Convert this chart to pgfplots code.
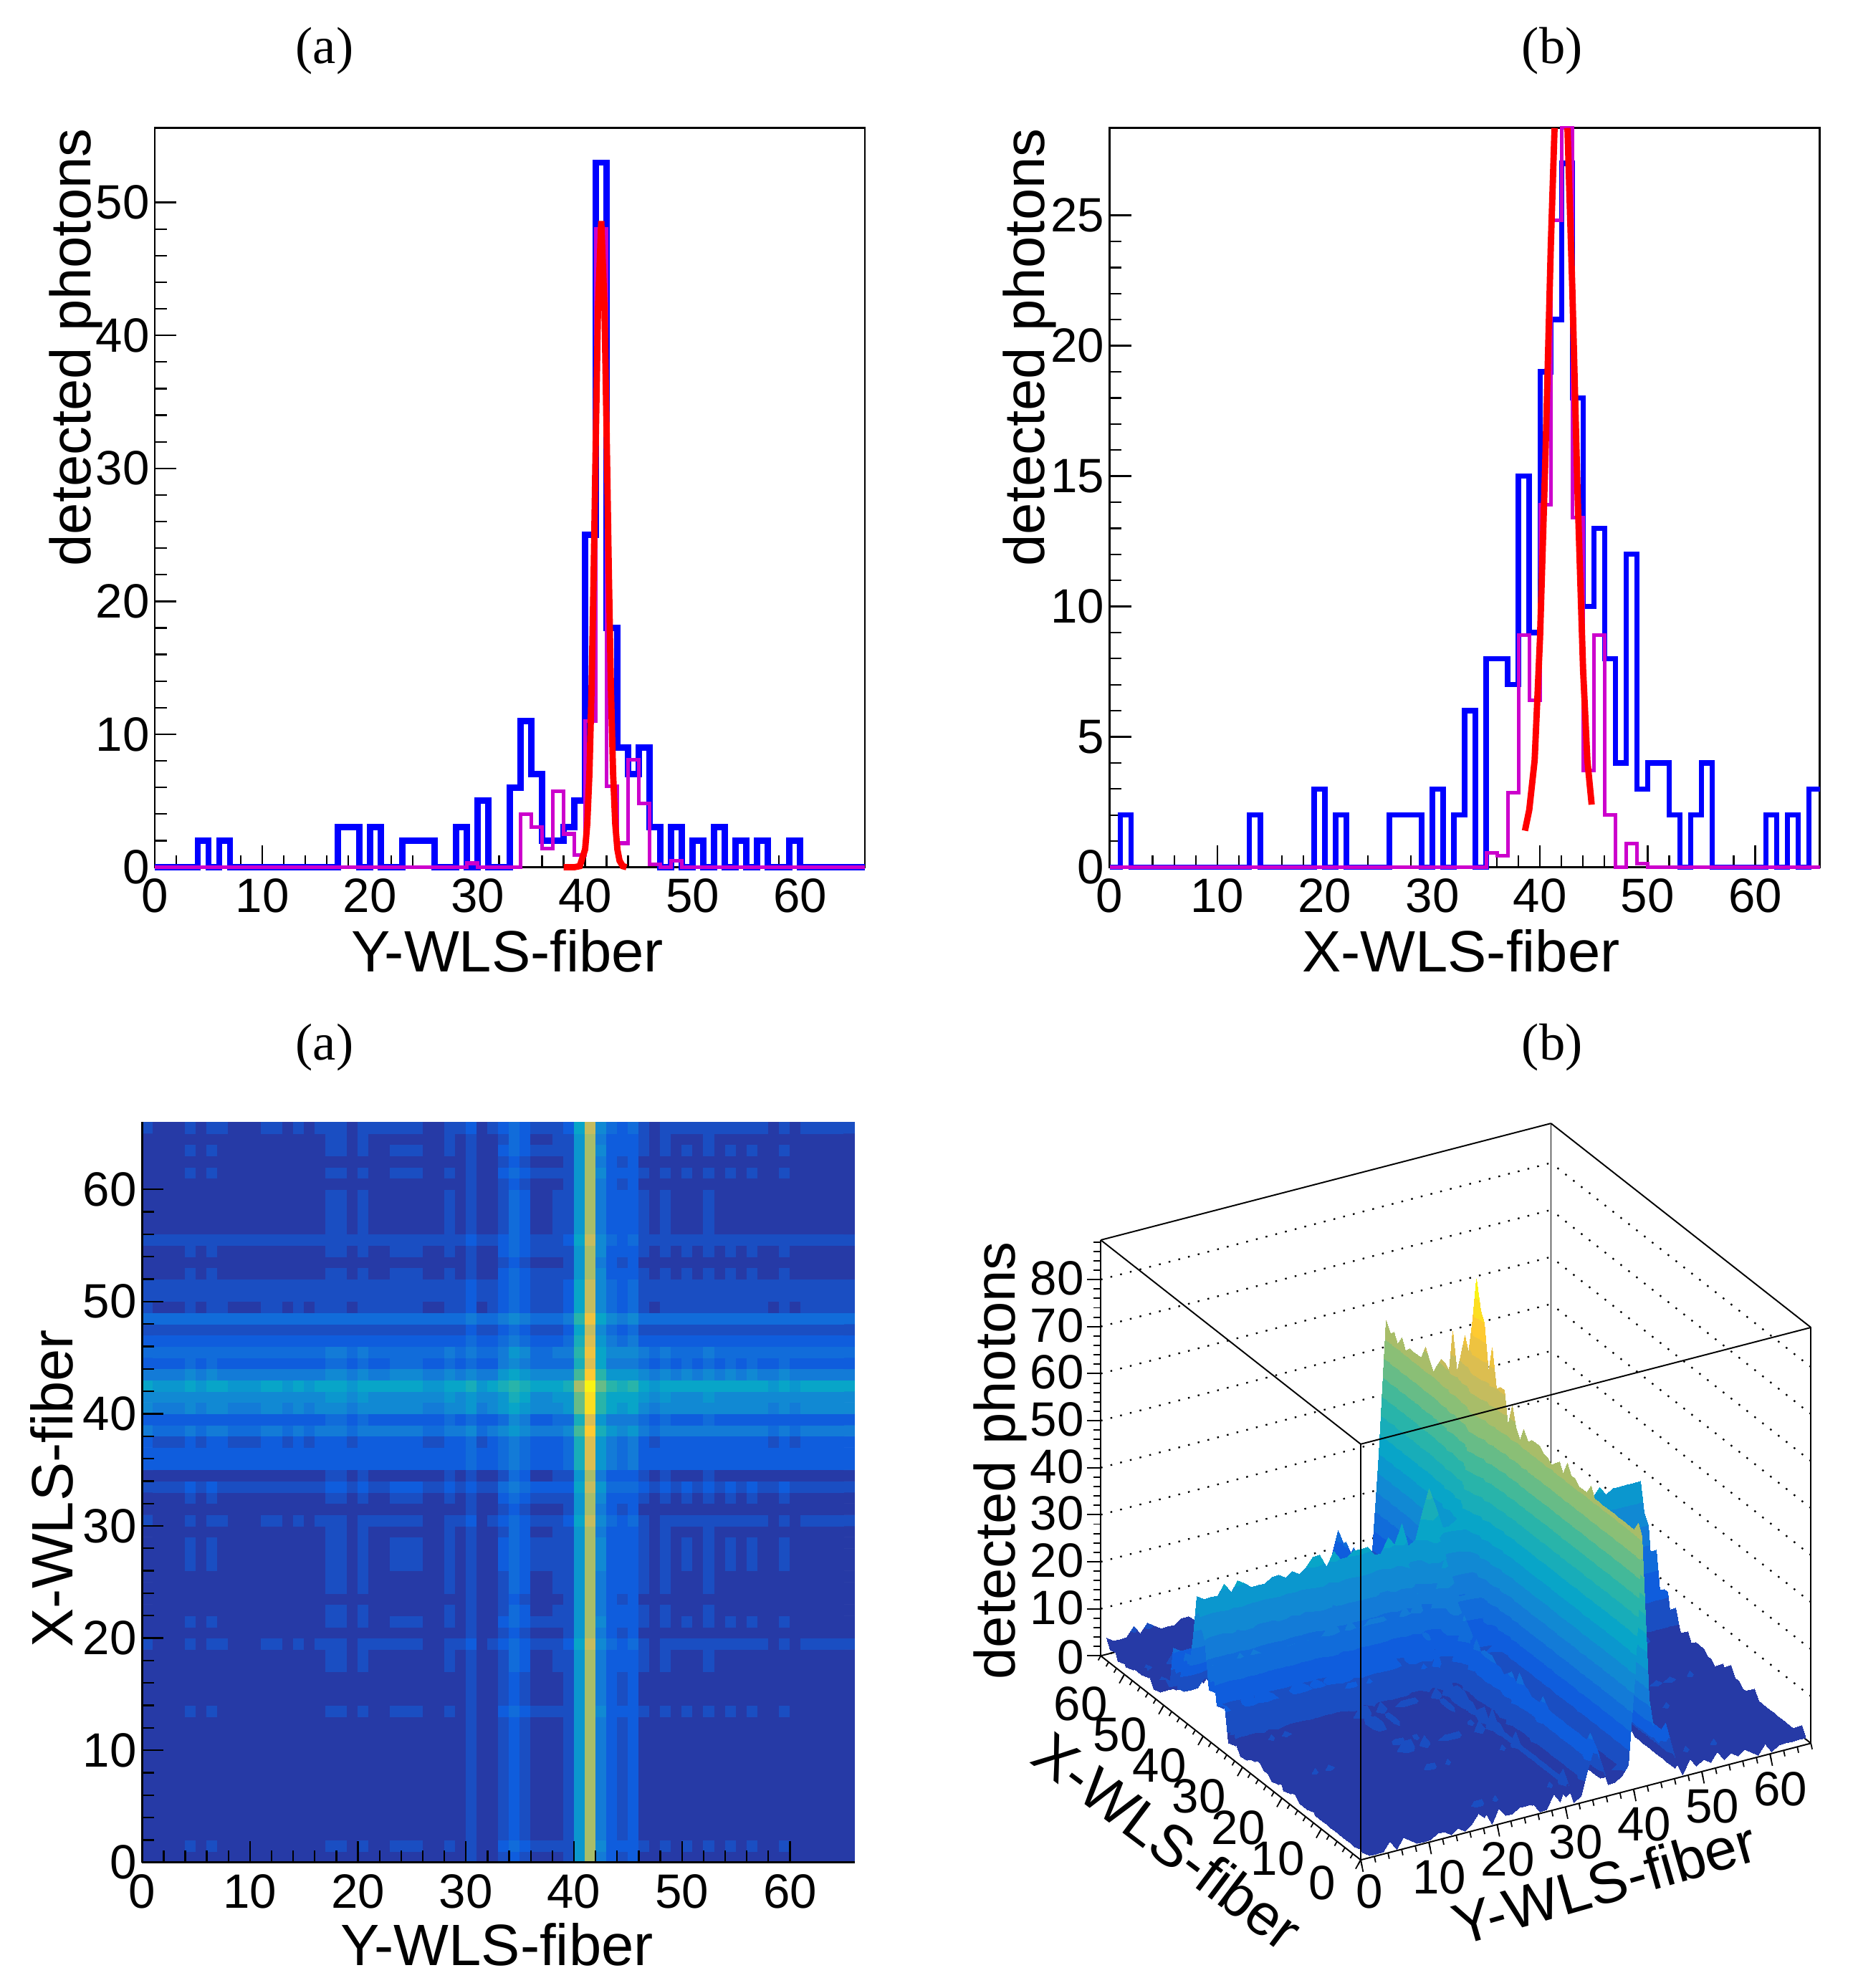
\documentclass[border=0pt]{standalone}
\usepackage{fontspec}
\setmainfont{Liberation Sans}
\newfontfamily\serifpart{Liberation Serif}
\usepackage{pgfplots}
\pgfplotsset{compat=1.18}
\usepgfplotslibrary{patchplots}

\definecolor{HistBlue}{HTML}{0000FF}
\definecolor{HistMag}{HTML}{CC00CC}
\definecolor{FitRed}{HTML}{FF0000}

\newcommand\tickfont{\fontsize{38}{41}\selectfont}
\newcommand\labfont{\fontsize{46}{50}\selectfont}
\newcommand\ylabfont{\fontsize{45}{50}\selectfont}
\newcommand\panelfont{\serifpart\fontsize{41}{44}\selectfont}

\pgfplotsset{
  colormap={rootbird}{
    rgb255=(38,58,166) rgb255=(26,78,194) rgb255=(15,93,221) rgb255=(17,108,218)
    rgb255=(19,123,215) rgb255=(17,137,211) rgb255=(11,151,206) rgb255=(8,165,200)
    rgb255=(24,173,185) rgb255=(40,180,170) rgb255=(67,185,153) rgb255=(103,188,135)
    rgb255=(138,191,118) rgb255=(168,189,105) rgb255=(197,188,94) rgb255=(220,190,80)
    rgb255=(238,195,64) rgb255=(254,202,49) rgb255=(252,222,34) rgb255=(250,243,20)
  },
  rootaxis/.style={
    scale only axis,
    /pgf/number format/assume math mode=true,
    tick label style={font=\tickfont,inner sep=0pt},
    tick align=inside,
    xtick pos=bottom,ytick pos=left,
    major tick length=17pt,minor tick length=9.5pt,
    every tick/.style={black,line width=1.3pt},
    axis line style={line width=1.5pt},
    xmin=0,xmax=66,
    xtick={0,10,...,60},minor x tick num=4,minor y tick num=4,
    xticklabel style={yshift=-9pt},
    yticklabel style={xshift=-4pt},
  },
  histblue/.style={const plot,HistBlue,line width=5pt,line join=miter},
  histmag/.style={const plot,HistMag,line width=3pt,line join=miter},
  fitred/.style={FitRed,line width=5pt},
  heatstyle/.style={matrix plot*,mesh/cols=66,point meta=explicit,
    point meta min=0,point meta max=80,colormap access=piecewise constant},
  surfstyle/.style={surf,shader=interp,mesh/cols=66,z buffer=reverse xy seq,
    point meta=z,point meta min=0,point meta max=80,colormap access=piecewise constant},
}

% detected photons per cell: one typed row for each X-fiber level
\newcount\cellx \newcount\celly
\newtoks\surfcoords \newtoks\heatcoords \newtoks\surfrow \newtoks\heatrow
\def\setrow#1#2{\expandafter\def\csname rowh#1\endcsname{#2 }}
\def\addcell#1 {\if x#1\else
  \edef\tmpa{\the\surfrow(\the\cellx.5,\the\celly.5,#1)}\surfrow=\expandafter{\tmpa}%
  \edef\tmpa{\the\heatrow(\the\cellx.5,\the\celly.5)[#1]}\heatrow=\expandafter{\tmpa}%
  \advance\cellx by 1
  \expandafter\addcell\fi}
\def\R#1{\cellx=0 \surfrow={}\heatrow={}%
  \expandafter\expandafter\expandafter\addcell\csname rowh#1\endcsname x \relax
  \edef\tmpa{\the\surfcoords\the\surfrow}\surfcoords=\expandafter{\tmpa}%
  \edef\tmpa{\the\heatcoords\the\heatrow}\heatcoords=\expandafter{\tmpa}%
  \advance\celly by 1 }

\setrow{0}{1 0 0 0 2 0 2 1 0 0 0 1 1 0 1 0 1 3 3 0 3 1 1 2 2 2 0 0 3 1 5 0 1 6 11 7 2 2 3 5 25 53 18 9 7 9 3 0 3 1 2 1 3 1 2 1 2 1 0 2 0 1 1 1 1 1}
\setrow{1}{2 1 1 1 3 1 3 2 1 1 1 2 2 1 2 1 2 4 4 1 4 2 2 3 3 3 1 1 4 2 6 1 2 7 12 8 3 3 4 6 26 54 19 10 8 10 4 1 4 2 3 2 4 2 3 2 3 2 1 3 1 2 2 2 2 2}
\setrow{2}{3 2 2 2 4 2 4 3 2 2 2 3 3 2 3 2 3 5 5 2 5 3 3 4 4 4 2 2 5 3 7 2 3 8 13 9 4 4 5 7 27 55 20 11 9 11 5 2 5 3 4 3 5 3 4 3 4 3 2 4 2 3 3 3 3 3}
\setrow{3}{4 3 3 3 5 3 5 4 3 3 3 4 4 3 4 3 4 6 6 3 6 4 4 5 5 5 3 3 6 4 8 3 4 9 14 10 5 5 6 8 28 56 21 12 10 12 6 3 6 4 5 4 6 4 5 4 5 4 3 5 3 4 4 4 4 4}
\setrow{4}{5 4 4 4 6 4 6 5 4 4 4 5 5 4 5 4 5 7 7 4 7 5 5 6 6 6 4 4 7 5 9 4 5 10 15 11 6 6 7 9 29 57 22 13 11 13 7 4 7 5 6 5 7 5 6 5 6 5 4 6 4 5 5 5 5 5}
\setrow{6}{7 6 6 6 8 6 8 7 6 6 6 7 7 6 7 6 7 9 9 6 9 7 7 8 8 8 6 6 9 7 11 6 7 12 17 13 8 8 9 11 31 59 24 15 13 15 9 6 9 7 8 7 9 7 8 7 8 7 6 8 6 7 7 7 7 7}
\setrow{7}{8 7 7 7 9 7 9 8 7 7 7 8 8 7 8 7 8 10 10 7 10 8 8 9 9 9 7 7 10 8 12 7 8 13 18 14 9 9 10 12 32 60 25 16 14 16 10 7 10 8 9 8 10 8 9 8 9 8 7 9 7 8 8 8 8 8}
\setrow{8}{9 8 8 8 10 8 10 9 8 8 8 9 9 8 9 8 9 11 11 8 11 9 9 10 10 10 8 8 11 9 13 8 9 14 19 15 10 10 11 13 33 61 26 17 15 17 11 8 11 9 10 9 11 9 10 9 10 9 8 10 8 9 9 9 9 9}
\setrow{9}{10 9 9 9 11 9 11 10 9 9 9 10 10 9 10 9 10 12 12 9 12 10 10 11 11 11 9 9 12 10 14 9 10 15 20 16 11 11 12 14 34 62 27 18 16 18 12 9 12 10 11 10 12 10 11 10 11 10 9 11 9 10 10 10 10 10}
\setrow{10}{11 10 10 10 12 10 12 11 10 10 10 11 11 10 11 10 11 13 13 10 13 11 11 12 12 12 10 10 13 11 15 10 11 16 21 17 12 12 13 15 35 63 28 19 17 19 13 10 13 11 12 11 13 11 12 11 12 11 10 12 10 11 11 11 11 11}
\setrow{12}{13 12 12 12 14 12 14 13 12 12 12 13 13 12 13 12 13 15 15 12 15 13 13 14 14 14 12 12 15 13 17 12 13 18 23 19 14 14 15 17 37 65 30 21 19 21 15 12 15 13 14 13 15 13 14 13 14 13 12 14 12 13 13 13 13 13}
\setrow{13}{14 13 13 13 15 13 15 14 13 13 13 14 14 13 14 13 14 16 16 13 16 14 14 15 15 15 13 13 16 14 18 13 14 19 24 20 15 15 16 18 38 66 31 22 20 22 16 13 16 14 15 14 16 14 15 14 15 14 13 15 13 14 14 14 14 14}
\setrow{15}{16 15 15 15 17 15 17 16 15 15 15 16 16 15 16 15 16 18 18 15 18 16 16 17 17 17 15 15 18 16 20 15 16 21 26 22 17 17 18 20 40 68 33 24 22 24 18 15 18 16 17 16 18 16 17 16 17 16 15 17 15 16 16 16 16 16}
\setrow{18}{19 18 18 18 20 18 20 19 18 18 18 19 19 18 19 18 19 21 21 18 21 19 19 20 20 20 18 18 21 19 23 18 19 24 29 25 20 20 21 23 43 71 36 27 25 27 21 18 21 19 20 19 21 19 20 19 20 19 18 20 18 19 19 19 19 19}
\setrow{19}{20 19 19 19 21 19 21 20 19 19 19 20 20 19 20 19 20 22 22 19 22 20 20 21 21 21 19 19 22 20 24 19 20 25 30 26 21 21 22 24 44 72 37 28 26 28 22 19 22 20 21 20 22 20 21 20 21 20 19 21 19 20 20 20 20 20}
\setrow{21}{22 21 21 21 23 21 23 22 21 21 21 22 22 21 22 21 22 24 24 21 24 22 22 23 23 23 21 21 24 22 26 21 22 27 32 28 23 23 24 26 46 74 39 30 28 30 24 21 24 22 23 22 24 22 23 22 23 22 21 23 21 22 22 22 22 22}
\setrow{27}{28 27 27 27 29 27 29 28 27 27 27 28 28 27 28 27 28 30 30 27 30 28 28 29 29 29 27 27 30 28 32 27 28 33 38 34 29 29 30 32 52 80 45 36 34 36 30 27 30 28 29 28 30 28 29 28 29 28 27 29 27 28 28 28 28 28}

\R{0}\R{2}\R{0}\R{0}\R{0}\R{0}\R{0}\R{0}\R{0}\R{0}\R{0}\R{0}\R{0}\R{2}\R{0}\R{0}\R{0}\R{1}\R{1}\R{3}\R{0}\R{2}
\R{1}\R{0}\R{1}\R{1}\R{2}\R{2}\R{2}\R{1}\R{3}\R{0}\R{2}\R{6}\R{1}\R{8}\R{8}\R{7}\R{15}\R{9}\R{19}\R{21}\R{27}\R{18}
\R{10}\R{13}\R{8}\R{4}\R{12}\R{3}\R{4}\R{4}\R{2}\R{0}\R{2}\R{4}\R{1}\R{1}\R{1}\R{1}\R{0}\R{2}\R{0}\R{2}\R{1}\R{3}

\begin{document}
\begin{tikzpicture}
\path[use as bounding box] (0pt,0pt) rectangle (1461pt,1568pt);

% top left histogram
\begin{axis}[rootaxis,at={(122pt,884pt)},width=560pt,height=583pt,clip=false,
  ymin=0,ymax=55.6,ytick={0,10,...,50}]
\addplot[histblue] coordinates {(0,0)(4,2)(5,0)(6,2)(7,0)(17,3)(19,0)(20,3)(21,0)(23,2)(26,0)(28,3)(29,0)(30,5)(31,0)(33,6)(34,11)(35,7)(36,2)(38,3)(39,5)(40,25)(41,53)(42,18)(43,9)(44,7)(45,9)(46,3)(47,0)(48,3)(49,0)(50,2)(51,0)(52,3)(53,0)(54,2)(55,0)(56,2)(57,0)(59,2)(60,0)(66,0)};
\addplot[histmag] coordinates {(0,0)(29,0.3)(30,0)(34,4)(35,3)(36,1.4)(37,5.7)(38,2.5)(39,0.9)(40,11)(41,48)(42,6.1)(43,1.8)(44,8.1)(45,4.8)(46,0.2)(47,0)(48,0.5)(49,0)(66,0)};
\addplot[fitred] coordinates {(38,0)(39,0)(39.5,0.08)(40,1.34)(40.2,3.27)(40.4,7.05)(40.6,13.4)(40.8,22.3)(41,32.6)(41.2,42.1)(41.5,48.6)(41.8,42.1)(42,32.6)(42.2,22.3)(42.4,13.4)(42.6,7.05)(42.8,3.27)(43,1.34)(43.2,0.49)(43.5,0.08)(43.85,0)};
\end{axis}

% top right histogram
\begin{axis}[rootaxis,at={(875pt,884pt)},width=560pt,height=583pt,clip=false,
  ymin=0,ymax=28.35,ytick={0,5,...,25}]
\addplot[histblue,line width=4.2pt] coordinates {(0,0)(1,2)(2,0)(13,2)(14,0)(19,3)(20,0)(21,2)(22,0)(26,2)(29,0)(30,3)(31,0)(32,2)(33,6)(34,0)(35,8)(37,7)(38,15)(39,9)(40,19)(41,21)(42,27)(43,18)(44,10)(45,13)(46,8)(47,4)(48,12)(49,3)(50,4)(52,2)(53,0)(54,2)(55,4)(56,0)(61,2)(62,0)(63,2)(64,0)(65,3)(66,3)};
\addplot[histmag,line width=2.8pt] coordinates {(0,0)(35,0.55)(36,0.45)(37,2.85)(38,8.9)(39,6.4)(40,13.9)(41,24.8)(42,28.35)(43,13.4)(44,3.7)(45,8.9)(46,2)(47,0)(48,0.9)(49,0.15)(50,0)(66,0)};
\addplot[fitred] coordinates {(38.6,1.4)(39,2.2)(39.5,4.1)(40,8.8)(40.5,15.7)(41,23.8)(41.35,28.35)};
\addplot[fitred] coordinates {(42.55,28.35)(43,22.2)(43.5,14.2)(44,7.6)(44.4,4.1)(44.8,2.4)};
\end{axis}

% bottom left map
\begin{axis}[rootaxis,at={(112pt,99pt)},width=562pt,height=584pt,
  axis on top,enlargelimits=false,ymin=0,ymax=66,ytick={0,10,...,60},
  colormap name=rootbird,axis x line*=bottom,axis y line*=left,
  axis line style={-,line width=1.5pt}]
\edef\plotheat{\noexpand\addplot[heatstyle] coordinates {\the\heatcoords};}
\plotheat
\end{axis}

% bottom right surface
\begin{axis}[at={(1073pt,101pt)},anchor=origin,clip=false,
  x={(5.379pt,1.394pt)},y={(-3.106pt,2.439pt)},z={(0pt,3.71pt)},
  xmin=0,xmax=66,ymin=0,ymax=66,zmin=0,zmax=88.4,
  3d box=complete,colormap name=rootbird,
  /pgf/number format/assume math mode=true,
  tick label style={font=\tickfont,inner sep=0pt},
  tick align=outside,major tick length=9pt,
  major tick style={draw=none},
  axis line style={line width=1.1pt},
  tick pos=left,
  xtick={0,10,...,60},ytick={0,10,...,60},ztick={0,10,...,80},
  minor tick num=0,
  xticklabel style={xshift=-7pt,yshift=-5pt},
  yticklabel style={xshift=-11pt,yshift=-2pt},
  zticklabel style={xshift=-6pt,yshift=-9pt},
  zmajorgrids=true,z grid style={black,line width=1.3pt,dash pattern=on 1.4pt off 6.5pt}]
\edef\plotsurf{\noexpand\addplot3[surfstyle] coordinates {\the\surfcoords};}
\plotsurf
% ticks only on the three edges that carry labels
\pgfplotsinvokeforeach{0,2,...,66}{
  \draw[black,line width=1pt] (axis cs:#1,0,0) -- ++(1pt,-4.7pt);
  \draw[black,line width=1pt] (axis cs:0,#1,0) -- ++(-2pt,-3.5pt);}
\pgfplotsinvokeforeach{0,10,...,60}{
  \draw[black,line width=1pt] (axis cs:#1,0,0) -- ++(1.9pt,-9.4pt);
  \draw[black,line width=1pt] (axis cs:0,#1,0) -- ++(-4pt,-7pt);}
\pgfplotsinvokeforeach{0,2,...,88}{
  \draw[black,line width=1.1pt] (axis cs:0,66,#1) -- ++(-6pt,0pt);}
\pgfplotsinvokeforeach{0,10,...,80}{
  \draw[black,line width=1.1pt] (axis cs:0,66,#1) -- ++(-11pt,0pt);}
\end{axis}

% labels
\node[font=\panelfont] at (256pt,1528pt) {(a)};
\node[font=\panelfont] at (1224pt,1528pt) {(b)};
\node[font=\panelfont] at (256pt,742pt) {(a)};
\node[font=\panelfont] at (1224pt,742pt) {(b)};
\node[font=\labfont] at (400pt,818pt) {Y-WLS-fiber};
\node[font=\labfont] at (1152pt,818pt) {X-WLS-fiber};
\node[font=\ylabfont,rotate=90] at (60pt,1294pt) {detected photons};
\node[font=\ylabfont,rotate=90] at (812pt,1294pt) {detected photons};
\node[font=\labfont] at (392pt,34pt) {Y-WLS-fiber};
\node[font=\labfont,rotate=90] at (41pt,394pt) {X-WLS-fiber};
\node[font=\ylabfont,rotate=90] at (789pt,416pt) {detected photons};
\node[font=\labfont,rotate=-37] at (921pt,116pt) {X-WLS-fiber};
\node[font=\labfont,rotate=16] at (1265pt,83pt) {Y-WLS-fiber};
\end{tikzpicture}
\end{document}
